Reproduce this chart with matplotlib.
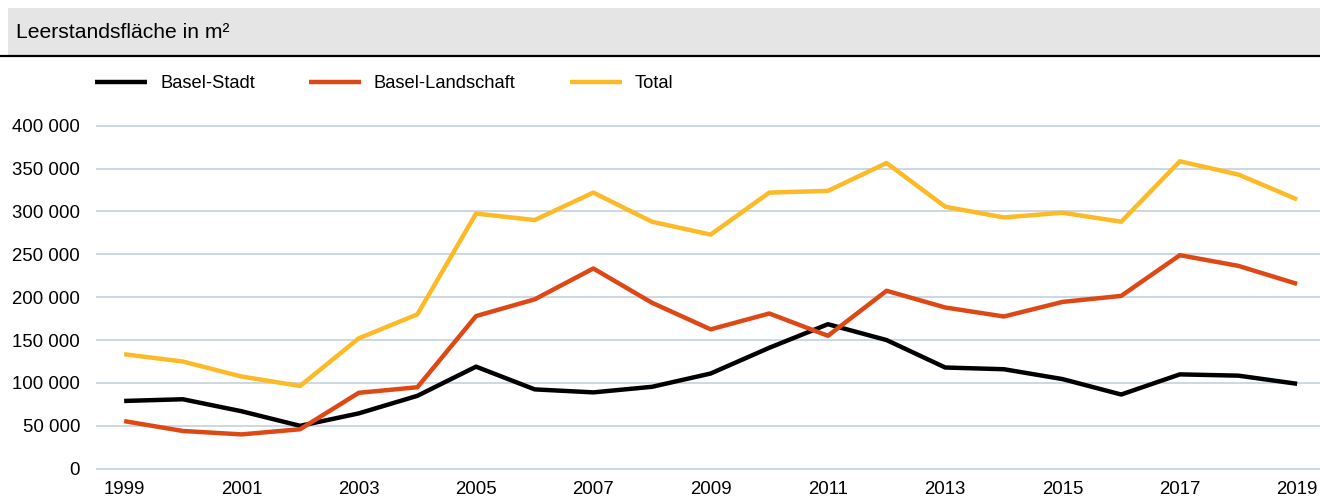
import matplotlib
matplotlib.use("Agg")
import matplotlib.pyplot as plt
from matplotlib.patches import Rectangle
from matplotlib.lines import Line2D

plt.rcParams["font.family"] = ["Liberation Sans", "DejaVu Sans"]

years = list(range(1999, 2020))
basel_stadt = [79000, 81000, 67000, 50000, 64500, 85000, 119000, 92500, 89000, 95500,
               111000, 141000, 168500, 150000, 118000, 116000, 104500, 86500, 110000, 108500, 99000]
basel_landschaft = [55500, 44000, 40000, 46000, 88500, 95000, 178000, 197500, 233500, 193500,
                    162500, 181000, 155000, 207500, 188000, 177500, 194500, 201500, 249000, 236500, 215500]
total = [133500, 125000, 107500, 96500, 152000, 180000, 297500, 290000, 322000, 288000,
         273000, 322000, 324000, 356500, 305500, 293000, 298500, 288000, 358500, 343000, 314000]
series_names = ["Basel-Stadt", "Basel-Landschaft", "Total"]
colors = ["#000000", "#dd4814", "#fbba26"]
yticks = [0, 50000, 100000, 150000, 200000, 250000, 300000, 350000, 400000]
xticks = list(range(1999, 2020, 2))

W, H = 1320, 497
fig = plt.figure(figsize=(W / 100, H / 100), dpi=100)

# title band
fig.patches.append(Rectangle((8 / W, 1 - 56 / H), 1 - 8 / W, 48 / H, transform=fig.transFigure,
                             facecolor="#e5e5e5", edgecolor="none", zorder=0))
fig.lines.append(Line2D([0, 1], [1 - 56 / H, 1 - 56 / H], transform=fig.transFigure,
                        color="black", lw=1.6))
fig.text(16 / W, 1 - 32.5 / H, "Leerstandsfläche in m²", fontsize=15.2, va="center", ha="left")

# axes: 0 gridline at y=468.7px, 400000 at y=125.7px
ppu = 343 / 400000
ext = 10000
bottom_px = 468.7 + ext * ppu
top_px = 125.7 - ext * ppu
ax = fig.add_axes([96 / W, 1 - bottom_px / H, 1 - 96 / W, (bottom_px - top_px) / H])

for vals, name, c in zip([basel_stadt, basel_landschaft, total], series_names, colors):
    ax.plot(years, vals, color=c, lw=3.2, label=name, solid_capstyle="butt", zorder=3)

ax.set_ylim(-ext, 400000 + ext)
ax.set_xlim(1998.52, 2019.39)
ax.set_yticks(yticks)
ax.set_yticklabels([f"{v:,}".replace(",", " ") for v in yticks])
ax.set_xticks(xticks)
ax.set_xticklabels([str(x) for x in xticks])
ax.tick_params(axis="y", length=0, pad=11.5, labelsize=13.4)
ax.tick_params(axis="x", length=0, pad=2.5, labelsize=13.4)
ax.grid(axis="y", color="#c7d6e0", lw=1.3)
ax.grid(axis="x", visible=False)
ax.set_axisbelow(True)
for s in ax.spines.values():
    s.set_visible(False)

handles, labels = ax.get_legend_handles_labels()
fig.legend(handles, labels, ncol=3, loc="center left", bbox_to_anchor=(95 / W, 1 - 83.5 / H),
           frameon=False, fontsize=13.2, handlelength=2.85, handletextpad=0.7,
           columnspacing=2.95, borderpad=0, borderaxespad=0)

fig.savefig("out.png", dpi=100)
